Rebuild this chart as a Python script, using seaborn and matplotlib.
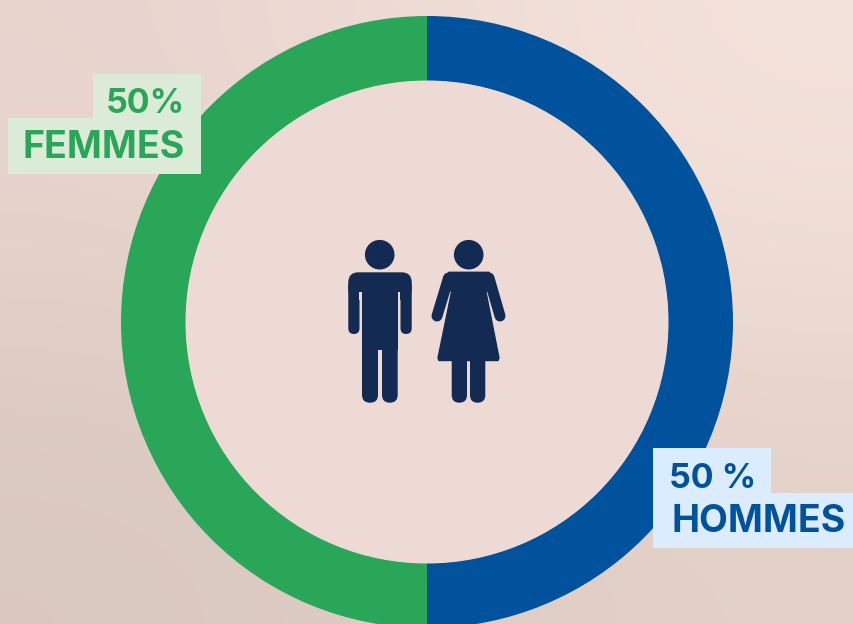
import numpy as np
import matplotlib
matplotlib.use("Agg")
import matplotlib.pyplot as plt
from matplotlib.patches import Circle, FancyBboxPatch, Polygon, Rectangle
import seaborn as sns

# data
groups = ["HOMMES", "FEMMES"]
shares = [50, 50]
share_labels = ["50 %", "50%"]
ring_colors = ["#00529c", "#29a658"]
box_colors = ["#dcecff", "#dcebd8"]
NAVY = "#132b52"
INNER = "#eedad4"

W, H = 854, 624

sns.set_theme(style="white")
plt.rcParams["font.family"] = ["Inter", "DejaVu Sans"]

fig = plt.figure(figsize=(W / 100, H / 100), dpi=100)
ax = fig.add_axes([0, 0, 1, 1])


def Y(py):
    # picture coords have y going down
    return H - py


# donut
ax.pie(shares, colors=ring_colors, startangle=90, counterclock=False,
       center=(427, Y(322)), radius=306,
       wedgeprops={"width": 65, "linewidth": 0}, frame=True)
ax.add_patch(Circle((427, Y(322)), 241.5, fc=INNER, ec="none", zorder=1))

# background, soft diagonal gradient
bg = np.array([[[232, 213, 207], [245, 228, 221]],
               [[217, 200, 191], [227, 209, 200]]]) / 255
ax.imshow(bg, extent=(0, W, 0, H), interpolation="bicubic", zorder=-5, aspect="auto")
ax.set_xlim(0, W)
ax.set_ylim(0, H)
ax.set_aspect("equal")
ax.axis("off")


def rbox(x0, y0, x1, y1, r):
    ax.add_patch(FancyBboxPatch((x0 + r, Y(y1) + r), x1 - x0 - 2 * r, y1 - y0 - 2 * r,
                                boxstyle=f"round,pad={r},rounding_size={r}",
                                fc=NAVY, ec="none", zorder=3))


def limb(p0, p1, width):
    ax.plot([p0[0], p1[0]], [Y(p0[1]), Y(p1[1])], color=NAVY,
            lw=width * 0.72, solid_capstyle="round", zorder=3)


# man
ax.add_patch(Circle((379.7, Y(254.7)), 14.8, fc=NAVY, ec="none", zorder=3))
rbox(348.3, 272.3, 411.7, 300, 10)
rbox(348.3, 280, 359.5, 334, 5.6)
rbox(400.5, 280, 411.7, 334, 5.6)
# slits between the arms and the body
ax.add_patch(Rectangle((359.5, Y(300)), 2.6, 8, fc=INNER, ec="none", zorder=3.1))
ax.add_patch(Rectangle((397.8, Y(300)), 2.7, 8, fc=INNER, ec="none", zorder=3.1))
ax.add_patch(Rectangle((362, Y(350)), 35.7, 350 - 290, fc=NAVY, ec="none", zorder=3.2))
rbox(362, 330, 378, 402.7, 7.8)
rbox(382, 330, 397.7, 402.7, 7.8)

# woman
ax.add_patch(Circle((468.7, Y(254.7)), 14.8, fc=NAVY, ec="none", zorder=3))
dress = [(449, 272.3), (489, 272.3), (493, 280), (486, 292), (499, 358), (498, 360.5),
         (439, 360.5), (438, 358), (451.5, 292), (444, 280)]
ax.add_patch(Polygon([(x, Y(y)) for x, y in dress], closed=True, fc=NAVY, ec=NAVY,
                     lw=1, joinstyle="round", zorder=3))
limb((448.5, 278), (437, 316), 11)
limb((489, 278), (500, 316), 11)
rbox(451.7, 350, 467, 402.7, 7.6)
rbox(470, 350, 485.3, 402.7, 7.6)

# label boxes
ax.add_patch(Rectangle((93, Y(119)), 108, 45, fc=box_colors[1], ec="none", zorder=4))
ax.add_patch(Rectangle((8, Y(174)), 193, 56, fc=box_colors[1], ec="none", zorder=4))
ax.add_patch(Rectangle((653, Y(493)), 118, 45, fc=box_colors[0], ec="none", zorder=4))
ax.add_patch(Rectangle((653, Y(548)), 201, 55, fc=box_colors[0], ec="none", zorder=4))

txt = dict(fontweight="bold", zorder=5, va="baseline")
ax.text(185, Y(113), share_labels[1], color=ring_colors[1], ha="right", fontsize=24.5, **txt)
ax.text(185, Y(158), groups[1], color=ring_colors[1], ha="right", fontsize=27, **txt)
ax.text(669, Y(488), share_labels[0], color=ring_colors[0], ha="left", fontsize=24.5, **txt)
ax.text(672, Y(532), groups[0], color=ring_colors[0], ha="left", fontsize=27, **txt)

fig.savefig("out.png", dpi=100)
